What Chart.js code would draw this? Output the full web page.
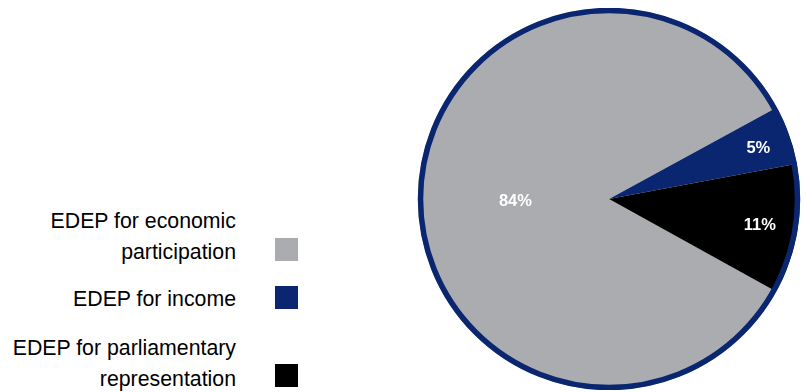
<!DOCTYPE html>
<html>
<head>
<meta charset="utf-8">
<script src="https://cdn.jsdelivr.net/npm/chart.js@4"></script>
<style>
  html, body { margin:0; padding:0; background:#fff; }
  body { width:806px; height:392px; position:relative; overflow:hidden;
         font-family:"Liberation Sans", Arial, sans-serif; }
  #wrap { position:absolute; left:417px; top:8px; width:384px; height:382px; }
  .lg { position:absolute; right:570px; text-align:right; font-size:21.3px; line-height:31px; color:#000; white-space:nowrap; }
  .sw { position:absolute; left:275px; width:23px; height:23px; }
</style>
</head>
<body>
<div id="legend"></div>
<div id="wrap"><canvas id="c"></canvas></div>
<script>
const categories = [["EDEP for economic", "participation"], ["EDEP for income"], ["EDEP for parliamentary", "representation"]];
const values = [84, 5, 11];
const colors = ["#ABACB0", "#0B2670", "#000000"];

// legend layout
const legendTop = [206, 284, 333];
const swatchTop = [238, 286, 364];
const legend = document.getElementById('legend');
categories.forEach((lines, i) => {
  const d = document.createElement('div');
  d.className = 'lg';
  d.style.top = legendTop[i] + 'px';
  d.innerHTML = lines.join('<br>');
  legend.appendChild(d);
  const s = document.createElement('div');
  s.className = 'sw';
  s.style.top = swatchTop[i] + 'px';
  s.style.background = colors[i];
  legend.appendChild(s);
});

const labelRadius = [0.49, 0.83, 0.80];
const pieDecor = {
  id: 'pieDecor',
  afterDatasetsDraw(chart) {
    const ctx = chart.ctx;
    const meta = chart.getDatasetMeta(0);
    const a0 = meta.data[0];
    ctx.save();
    ctx.beginPath();
    ctx.arc(a0.x, a0.y, a0.outerRadius - 2.5, 0, Math.PI * 2);
    ctx.lineWidth = 5.5;
    ctx.strokeStyle = '#0B2670';
    ctx.stroke();
    ctx.fillStyle = '#fff';
    ctx.font = 'bold 16.5px "Liberation Sans", Arial, sans-serif';
    ctx.textAlign = 'center';
    ctx.textBaseline = 'alphabetic';
    meta.data.forEach((arc, i) => {
      const mid = (arc.startAngle + arc.endAngle) / 2;
      const r = arc.outerRadius * labelRadius[i];
      ctx.fillText(values[i] + '%', arc.x + Math.cos(mid) * r, arc.y + Math.sin(mid) * r + 7);
    });
    ctx.restore();
  }
};

new Chart(document.getElementById('c'), {
  type: 'pie',
  data: {
    labels: categories.map(l => l.join(' ')),
    datasets: [{ data: values, backgroundColor: colors, borderWidth: 0 }]
  },
  options: {
    responsive: true,
    maintainAspectRatio: false,
    animation: false,
    rotation: 119,
    layout: { padding: 0 },
    plugins: { legend: { display: false }, tooltip: { enabled: false } }
  },
  plugins: [pieDecor]
});
</script>
</body>
</html>
